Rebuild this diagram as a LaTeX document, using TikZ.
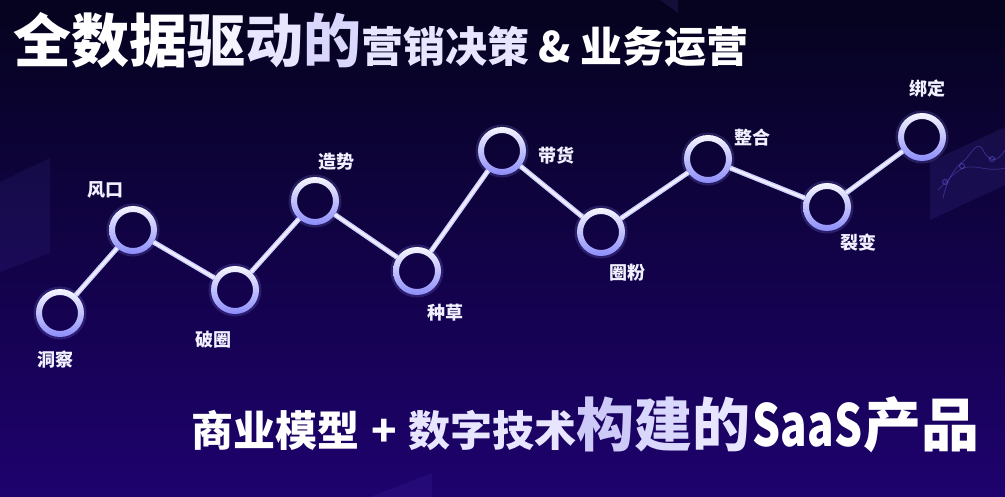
\documentclass[tikz,border=0pt]{standalone}
\usepackage{fontspec}
\newfontfamily\cjk{Noto Sans CJK SC}
\definecolor{bgtop}{RGB}{5,3,30}
\definecolor{bgbot}{RGB}{30,2,110}
\definecolor{lav}{RGB}{140,140,250}
\definecolor{linec}{RGB}{208,208,255}
\definecolor{labc}{RGB}{240,240,255}
\definecolor{panel}{RGB}{120,110,255}
\definecolor{tA}{RGB}{246,245,255}
\definecolor{tB}{RGB}{232,230,255}
\definecolor{tC}{RGB}{218,215,252}
\definecolor{tD}{RGB}{205,202,248}
\begin{document}
\begin{tikzpicture}[x=1pt,y=-1pt,
  ring/.style={circle, minimum size=48pt, inner sep=0pt, outer sep=0pt,
    preaction={draw=lav, draw opacity=0.2, line width=5pt},
    path picture={\shade[even odd rule, top color=white!92!lav, middle color=white, bottom color=lav]
      (path picture bounding box.center) circle (24pt)
      (path picture bounding box.center) circle (18pt);}},
  conn/.style={draw=linec, line width=5pt,
    postaction={draw=white, draw opacity=0.7, line width=2pt}},
  lab/.style={inner sep=0pt, text=labc, font=\cjk\bfseries\fontsize{18}{20}\selectfont},
  bigtext/.style={anchor=base west, inner sep=0pt, text=white, font=\cjk\bfseries}
]
\useasboundingbox (0,0) rectangle (1005,497);
\shade[top color=bgtop, bottom color=bgbot] (0,0) rectangle (1005,497);

% background decorations
\fill[panel, opacity=0.08] (0,182) -- (50,158) -- (50,253) -- (0,272) -- cycle;
\fill[panel, opacity=0.10] (930,162) -- (1005,127) -- (1005,185) -- (930,220) -- cycle;
\draw[panel, opacity=0.35, line width=0.8pt] (943,198) .. controls (948,175) and (958,165) .. (965,160) .. controls (972,152) and (978,140) .. (983,150) .. controls (988,160) and (996,165) .. (1005,150);
\draw[panel, opacity=0.3, line width=0.8pt] (938,190) .. controls (950,178) and (958,168) .. (968,167) .. controls (980,166) and (990,172) .. (1005,168);
\foreach \p in {(945,182),(962,166),(992,159)} \draw[panel, opacity=0.5, line width=0.8pt] \p circle (2.5pt);
\fill[panel, opacity=0.12] (660,0) -- (678,0) -- (678,13) -- cycle;
\fill[panel, opacity=0.08] (370,497) -- (432,473) -- (432,497) -- cycle;

% title
\node[bigtext] (title) at (13,63) {\fontsize{58}{60}\selectfont 全数据{\color{tA}驱}{\color{tB}动}{\color{tC}的}\fontsize{42}{44}\selectfont{\color{tB}营销决策} \& 业务运营};

% nodes
\node[ring] (n1) at (60,313) {};
\node[ring] (n2) at (133,230) {};
\node[ring] (n3) at (235,290) {};
\node[ring] (n4) at (315,201) {};
\node[ring] (n5) at (417,271) {};
\node[ring] (n6) at (502,151) {};
\node[ring] (n7) at (601,232) {};
\node[ring] (n8) at (708,159) {};
\node[ring] (n9) at (827,207) {};
\node[ring] (n10) at (922,137) {};

% connectors
\draw[conn] (n1) -- (n2);
\draw[conn] (n2) -- (n3);
\draw[conn] (n3) -- (n4);
\draw[conn] (n4) -- (n5);
\draw[conn] (n5) -- (n6);
\draw[conn] (n6) -- (n7);
\draw[conn] (n7) -- (n8);
\draw[conn] (n8) -- (n9);
\draw[conn] (n9) -- (n10);

% labels
\node[lab] (l1) at (55,360) {洞察};
\node[lab] (l2) at (105,190) {风口};
\node[lab] (l3) at (213,340) {破圈};
\node[lab] (l4) at (336,162) {造势};
\node[lab] (l5) at (445,313) {种草};
\node[lab] (l6) at (556,156) {带货};
\node[lab] (l7) at (627,273) {圈粉};
\node[lab] (l8) at (752,138) {整合};
\node[lab] (l9) at (858,243) {裂变};
\node[lab] (l10) at (927,89) {绑定};

% bottom line
\node[bigtext] (sub) at (191,446) {\fontsize{42}{44}\selectfont 商业模型\hspace{12pt}+\hspace{12pt}{\color{tB}数字技术}\fontsize{58}{60}\selectfont{\color{tD}构}{\color{tC}建}{\color{tB}的}\hspace{2pt}\scalebox{0.76}[1]{SaaS}\hspace{1pt}产品};
\end{tikzpicture}
\end{document}
